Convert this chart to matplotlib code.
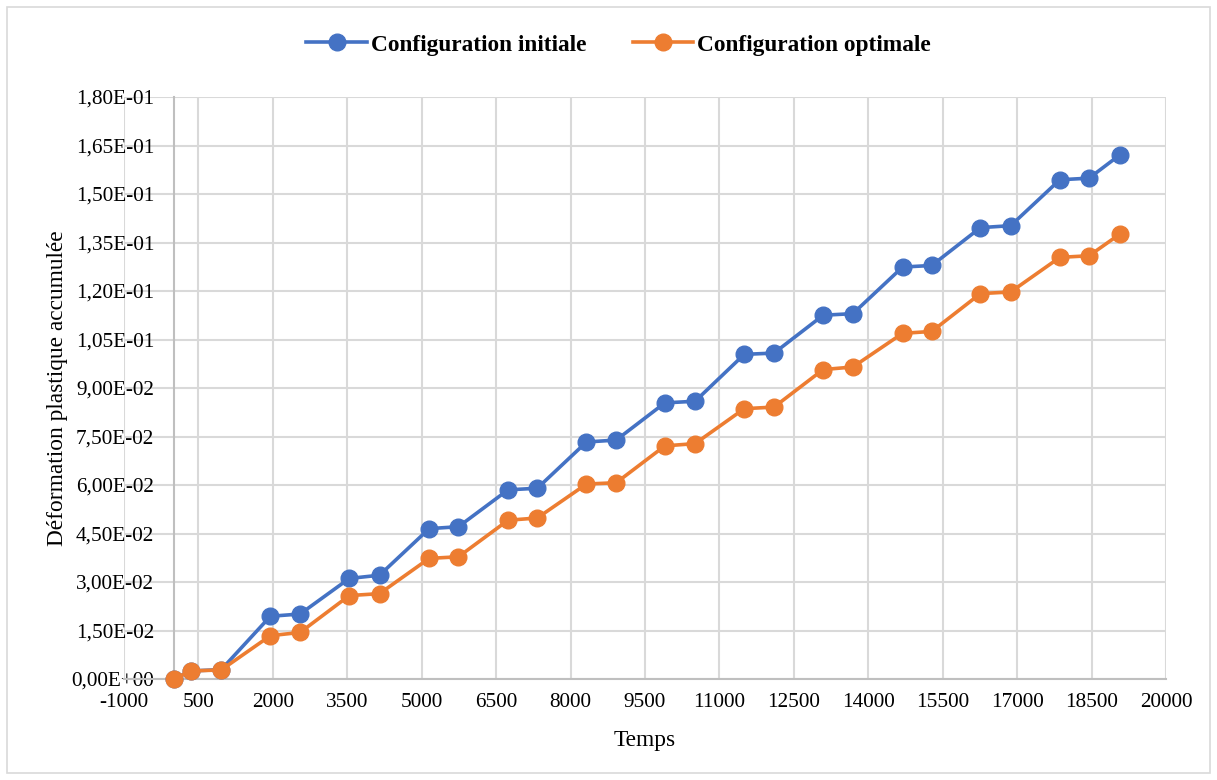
import matplotlib.pyplot as plt
from matplotlib.patches import Rectangle
from matplotlib.ticker import FuncFormatter
import numpy as np

plt.rcParams['font.family'] = ['Liberation Serif', 'DejaVu Serif']
plt.rcParams['axes.unicode_minus'] = False

# temps des incréments
temps = [0, 355, 960, 1950, 2550, 3540, 4150, 5150, 5740, 6740, 7330,
         8320, 8920, 9900, 10510, 11500, 12100, 13090, 13690, 14690,
         15280, 16260, 16870, 17860, 18450, 19070]

# déformation plastique accumulée
config_initiale = [0.0, 0.0025, 0.0029, 0.0194, 0.0201, 0.0311, 0.0321,
                   0.0465, 0.0471, 0.0585, 0.0590, 0.0733, 0.0739, 0.0854,
                   0.0859, 0.1004, 0.1008, 0.1125, 0.1130, 0.1274, 0.1279,
                   0.1396, 0.1402, 0.1544, 0.1549, 0.1621]
config_optimale = [0.0, 0.0025, 0.0028, 0.0134, 0.0144, 0.0258, 0.0264,
                   0.0373, 0.0378, 0.0491, 0.0498, 0.0603, 0.0607, 0.0721,
                   0.0728, 0.0836, 0.0841, 0.0957, 0.0965, 0.1069, 0.1075,
                   0.1192, 0.1197, 0.1304, 0.1309, 0.1376]

BLEU = '#4472C4'
ORANGE = '#ED7D31'
GRILLE = '#d9d9d9'
FS = 15.3      # graduations
FS_TITRE = 16.8  # titres d'axes et légende

fig = plt.figure(figsize=(12.17, 7.80), dpi=100)
ax = fig.add_axes([124 / 1217, 1 - 679 / 780, (1166 - 124) / 1217, (679 - 97) / 780])

# cadre du graphique
fig.patches.append(Rectangle((7 / 1217, 7 / 780), 1203 / 1217, 766 / 780,
                             transform=fig.transFigure, fill=False,
                             edgecolor=GRILLE, linewidth=1.2))

ax.plot(temps, config_initiale, color=BLEU, lw=2.6, marker='o', ms=12,
        label='Configuration initiale', zorder=3, clip_on=False)
ax.plot(temps, config_optimale, color=ORANGE, lw=2.6, marker='o', ms=12,
        label='Configuration optimale', zorder=4, clip_on=False)

ax.set_xlim(-1000, 20000)
ax.set_ylim(0, 0.18)
ax.set_xticks(np.arange(-1000, 20001, 1500))
ax.set_yticks(np.arange(0, 0.1801, 0.015))
ax.yaxis.set_major_formatter(FuncFormatter(lambda v, p: f'{v:.2E}'.replace('.', ',')))

ax.grid(True, color=GRILLE, lw=1.5)
ax.set_axisbelow(True)
for s in ['top', 'right']:
    ax.spines[s].set_visible(False)
ax.spines['left'].set_position(('data', 0))
ax.spines['left'].set_color('#bfbfbf')
ax.spines['bottom'].set_color('#bfbfbf')
ax.spines['left'].set_linewidth(1.5)
ax.spines['bottom'].set_linewidth(1.5)

ax.tick_params(axis='x', length=0, pad=10, labelsize=FS)
ax.tick_params(axis='y', length=0, pad=14, labelsize=FS)

ax.set_xlabel('Temps', fontsize=FS_TITRE, labelpad=13)
fig.text(58 / 1217, 1 - 388 / 780, 'Déformation plastique accumulée',
         rotation=90, ha='center', va='center', fontsize=FS_TITRE)

leg = fig.legend(loc='center', bbox_to_anchor=(0.5 + 10 / 1217, 1 - 45 / 780), ncol=2,
                 frameon=False, handlelength=2.6, columnspacing=2.0,
                 handletextpad=0.15, prop={'size': FS_TITRE, 'weight': 'bold'})
for h in leg.legend_handles:
    h.set_markersize(12)

fig.savefig('out.png', dpi=100)
